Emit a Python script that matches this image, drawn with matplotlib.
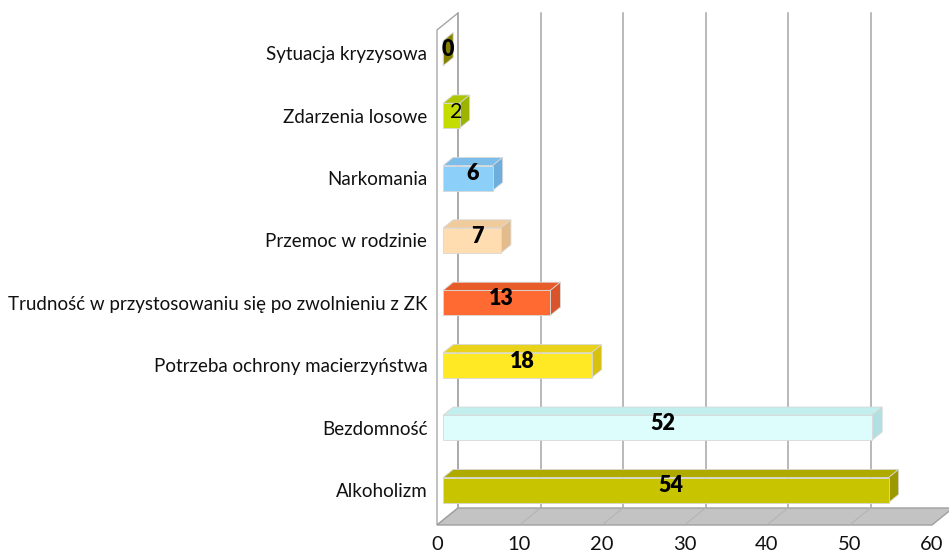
import matplotlib
matplotlib.use("Agg")
import matplotlib.pyplot as plt
from matplotlib.patches import Polygon

plt.rcParams['font.family'] = ['Lato', 'DejaVu Sans']

categories = ["Alkoholizm", "Bezdomność", "Potrzeba ochrony macierzyństwa",
              "Trudność w przystosowaniu się po zwolnieniu z ZK",
              "Przemoc w rodzinie", "Narkomania", "Zdarzenia losowe",
              "Sytuacja kryzysowa"]
values = [54, 52, 18, 13, 7, 6, 2, 0]
front_colors = ["#C8C400", "#DDFCFC", "#FFE824", "#FF6A33", "#FFDDB0", "#8CD0FA", "#C4DC00", "#A8A400"]
top_colors = ["#AEAA00", "#C2EEEE", "#E8D21A", "#E85C2A", "#F0CC9C", "#7CBDEA", "#AEC600", "#8E8A00"]
side_colors = ["#9C9800", "#B2E0E0", "#D8C010", "#D9542A", "#E4BC8C", "#6EAEDC", "#9CB400", "#868200"]
bold_labels = [True, True, True, True, True, True, False, True]
xticks = [0, 10, 20, 30, 40, 50, 60]

W, H = 949, 552
fig = plt.figure(figsize=(W / 100, H / 100), dpi=100)
# front plane of the axes in pixels
left_px, right_px, bottom_px, top_px = 437, 932, 525, 30
ax = fig.add_axes([left_px / W, 1 - bottom_px / H, (right_px - left_px) / W, (bottom_px - top_px) / H])
XMAX = 60
px_per_x = (right_px - left_px) / XMAX
px_per_y = 62.4
y0_px = 495  # category 0 at depth 0
ylo = -(bottom_px - y0_px) / px_per_y
yhi = (y0_px - top_px) / px_per_y
ax.set_xlim(0, XMAX)
ax.set_ylim(ylo, yhi)

DX = 21 / px_per_x   # full depth offset in x units
DY = 17 / px_per_y   # full depth offset in y units


def P(x, y, z):
    return (x + z * DX, y + z * DY)


for s in ax.spines.values():
    s.set_visible(False)
ax.set_facecolor("none")

grid_c = "#A6A6A6"
# back wall gridlines
for t in xticks:
    xa, ya = P(t, ylo, 1)
    xb, yb = P(t, yhi, 1)
    ax.plot([xa, xb], [ya, yb], color=grid_c, lw=1.1, clip_on=False, zorder=1)
# left wall
wall = [P(0, ylo, 0), P(0, ylo, 1), P(0, yhi, 1), P(0, yhi, 0)]
ax.add_patch(Polygon(wall, closed=True, facecolor="none", edgecolor=grid_c, lw=1.0, clip_on=False, zorder=1))
# floor
floor = [P(0, ylo, 0), P(XMAX, ylo, 0), P(XMAX, ylo, 1), P(0, ylo, 1)]
ax.add_patch(Polygon(floor, closed=True, facecolor="#C3C3C3", edgecolor="#A0A0A0", lw=1.0, clip_on=False, zorder=1))
for t in xticks[1:-1]:
    xa, ya = P(t, ylo, 0)
    xb, yb = P(t, ylo, 1)
    ax.plot([xa, xb], [ya, yb], color="#B4B4B4", lw=0.8, clip_on=False, zorder=1.5)

zf, zb = 0.29, 0.77
h = 0.40
for i, (v, fc, tc, sc) in enumerate(zip(values, front_colors, top_colors, side_colors)):
    yb_, yt_ = i - h / 2, i + h / 2
    front = [P(0, yb_, zf), P(v, yb_, zf), P(v, yt_, zf), P(0, yt_, zf)]
    top = [P(0, yt_, zf), P(v, yt_, zf), P(v, yt_, zb), P(0, yt_, zb)]
    side = [P(v, yb_, zf), P(v, yt_, zf), P(v, yt_, zb), P(v, yb_, zb)]
    ec = "#D8D8D8"
    ax.add_patch(Polygon(top, closed=True, facecolor=tc, edgecolor=ec, lw=0.6, zorder=3, clip_on=False))
    ax.add_patch(Polygon(side, closed=True, facecolor=sc, edgecolor=ec, lw=0.6, zorder=3, clip_on=False))
    ax.add_patch(Polygon(front, closed=True, facecolor=fc, edgecolor=ec, lw=0.6, zorder=4, clip_on=False))
    cx, cy = P(v / 2, i, (zf + zb) / 2)
    ax.text(cx, cy, str(v), ha="center", va="center", fontsize=15.5,
            fontweight="heavy" if bold_labels[i] else "normal", color="black", zorder=6)

# category labels
ypos = [P(0, i, zf)[1] for i in range(len(categories))]
ax.set_yticks(ypos)
ax.set_yticklabels(categories, fontsize=13.5, color="#111111")
ax.set_xticks(xticks)
ax.set_xticklabels([str(t) for t in xticks], fontsize=14.5, color="#111111")
ax.tick_params(axis="both", length=0)
ax.tick_params(axis="y", pad=7)
ax.tick_params(axis="x", pad=8)

fig.savefig("out.png", dpi=100, facecolor="white")
